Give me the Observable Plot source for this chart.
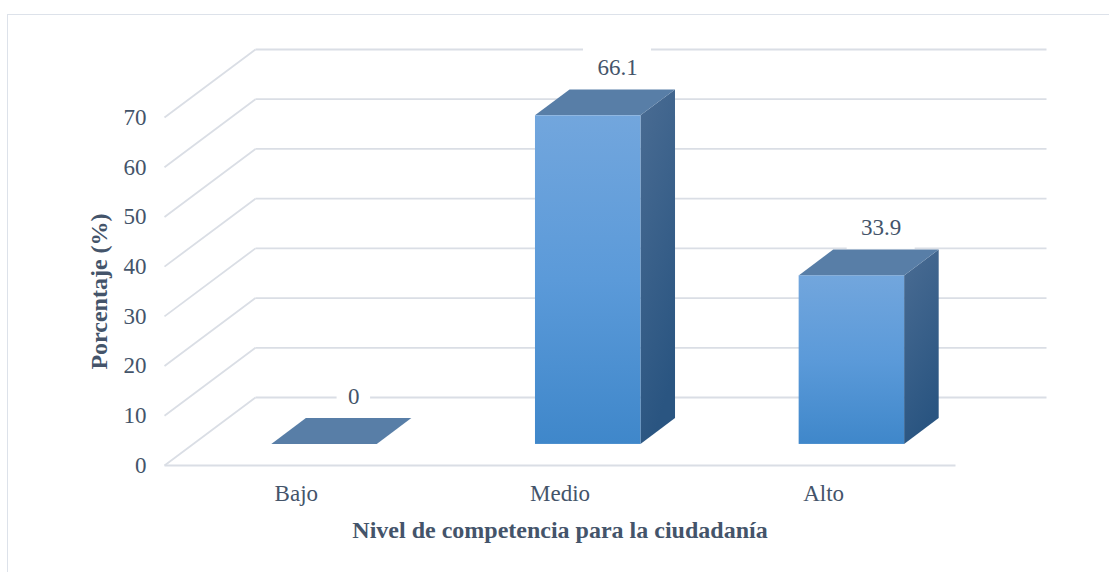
<!DOCTYPE html>
<html><head><meta charset="utf-8">
<script src="https://cdn.jsdelivr.net/npm/d3@7"></script>
<script src="https://cdn.jsdelivr.net/npm/@observablehq/plot@0.6"></script>
<style>
body{margin:0;background:#fff;}
#wrap{position:relative;width:1109px;height:572px;overflow:hidden;background:#fff;}
#chart{position:absolute;left:0;top:0;}
#chart text{font-family:"Liberation Serif","Times New Roman",serif;}
#border{position:absolute;left:7px;top:14px;right:-10px;bottom:-10px;border-left:1.5px solid #dde2ea;border-top:1.5px solid #dde2ea;pointer-events:none;}
</style></head><body><div id="wrap"><div id="chart"></div><div id="border"></div></div>
<script>
// ---- data ----
const categories = ["Bajo", "Medio", "Alto"];
const values = [0, 66.1, 33.9];
const yTicks = [0, 10, 20, 30, 40, 50, 60, 70];
const xTitle = "Nivel de competencia para la ciudadanía";
const yTitle = "Porcentaje (%)";

// ---- layout (3D-ish projection parameters) ----
const W = 1109, H = 572, mL = 164, mR = 154, mT = 117, mB = 107;
const pxX = (W - mL - mR) / categories.length;   // px per category unit
const pxY = (H - mT - mB) / 70;                   // px per percent
const DX = 91 / pxX, DY = 68 / pxY;               // full floor depth in data units
const f0 = 0.31, f1 = 0.69, half = 0.2;           // bar depth slice and half width

const textColor = "#44546a";
const gridColor = "#dadee5";
const font = "'Liberation Serif', 'Times New Roman', serif";

const bars = categories.map((c, i) => ({c, i, v: values[i]}));

// faces
const front = bars.map(b => ({
  x1: b.i - half + f0 * DX, x2: b.i + half + f0 * DX,
  y1: f0 * DY, y2: b.v + f0 * DY
}));
const topFace = bars.flatMap(b => [
  {z: b.i, y: b.v + f0 * DY, x1: b.i - half + f0 * DX, x2: b.i + half + f0 * DX},
  {z: b.i, y: b.v + f1 * DY, x1: b.i - half + f1 * DX, x2: b.i + half + f1 * DX}
]);
const sideFace = bars.filter(b => b.v > 0).flatMap(b => [
  {z: b.i, x: b.i + half + f0 * DX, y1: f0 * DY, y2: b.v + f0 * DY},
  {z: b.i, x: b.i + half + f1 * DX, y1: f1 * DY, y2: b.v + f1 * DY}
]);
const labels = bars.map(b => {
  const cx = b.i + (f0 + f1) / 2 * DX + 12 / pxX;
  const cy = b.v + f0 * DY + 48 / pxY;
  const t = String(b.v);
  const w = (t.length * 11.5 + 22) / pxX;
  const h = 21.5 / pxY;
  return {t, cx, cy, x1: cx - w / 2, x2: cx + w / 2, y1: cy - h, y2: cy + h};
});

function defs() {
  const ns = "http://www.w3.org/2000/svg";
  const d = document.createElementNS(ns, "defs");
  const mk = (id, stops, x2, y2) => {
    const g = document.createElementNS(ns, "linearGradient");
    g.setAttribute("id", id);
    g.setAttribute("x1", "0"); g.setAttribute("y1", "0");
    g.setAttribute("x2", x2); g.setAttribute("y2", y2);
    for (const [o, c] of stops) {
      const s = document.createElementNS(ns, "stop");
      s.setAttribute("offset", o); s.setAttribute("stop-color", c);
      g.appendChild(s);
    }
    d.appendChild(g);
  };
  mk("frontGrad", [["0", "#72a6dd"], ["0.5", "#5b9ad9"], ["1", "#3f87ca"]], "0", "1");
  mk("sideGrad", [["0", "#4a6c93"], ["1", "#2a5581"]], "0.3", "1");
  return d;
}

const chart = Plot.plot({
  width: W, height: H,
  marginLeft: mL, marginRight: mR, marginTop: mT, marginBottom: mB,
  x: {type: "linear", domain: [-0.5, categories.length - 0.5], axis: null},
  y: {domain: [0, 70], axis: null},
  style: {fontFamily: font, color: textColor, background: "none", overflow: "visible"},
  marks: [
    defs,
    // back wall gridlines
    Plot.link(yTicks, {x1: -0.5 + DX, x2: categories.length - 0.5 + DX, y1: d => d + DY, y2: d => d + DY,
      stroke: gridColor, strokeWidth: 1.8}),
    // side wall diagonals
    Plot.link(yTicks, {x1: -0.5, x2: -0.5 + DX, y1: d => d, y2: d => d + DY,
      stroke: gridColor, strokeWidth: 1.8}),
    // front floor edge
    Plot.link([0], {x1: -0.5, x2: categories.length - 0.5, y1: 0, y2: 0,
      stroke: gridColor, strokeWidth: 1.8}),
    // label backgrounds
    Plot.rect(labels, {x1: "x1", x2: "x2", y1: "y1", y2: "y2", fill: "white"}),
    // bars
    Plot.areaY(sideFace, {x: "x", y1: "y1", y2: "y2", z: "z", fill: "url(#sideGrad)", curve: "linear"}),
    Plot.areaX(topFace, {y: "y", x1: "x1", x2: "x2", z: "z", fill: "#587ea7", curve: "linear"}),
    Plot.rect(front, {x1: "x1", x2: "x2", y1: "y1", y2: "y2", fill: "url(#frontGrad)"}),
    // value labels
    Plot.text(labels, {x: "cx", y: "cy", text: "t", fontSize: 23, fontFamily: font, fill: textColor}),
    // y tick labels
    Plot.text(yTicks, {x: -0.5, y: d => d, text: d => String(d), dx: -18, textAnchor: "end", fontSize: 23, fontFamily: font, fill: textColor}),
    // category labels
    Plot.text(categories, {x: (d, i) => i, y: 0, text: d => d, dy: 28, fontSize: 23, fontFamily: font, fill: textColor}),
    // axis titles
    Plot.text([xTitle], {frameAnchor: "bottom", text: d => d, dy: 65, textAnchor: "middle", lineAnchor: "middle", fontSize: 24, fontWeight: "bold", fontFamily: font, fill: textColor}),
    Plot.text([yTitle], {frameAnchor: "left", text: d => d, dx: -65, rotate: -90, textAnchor: "middle", lineAnchor: "middle", fontSize: 24, fontWeight: "bold", fontFamily: font, fill: textColor})
  ]
});
document.getElementById("chart").appendChild(chart);
</script>
</body></html>
